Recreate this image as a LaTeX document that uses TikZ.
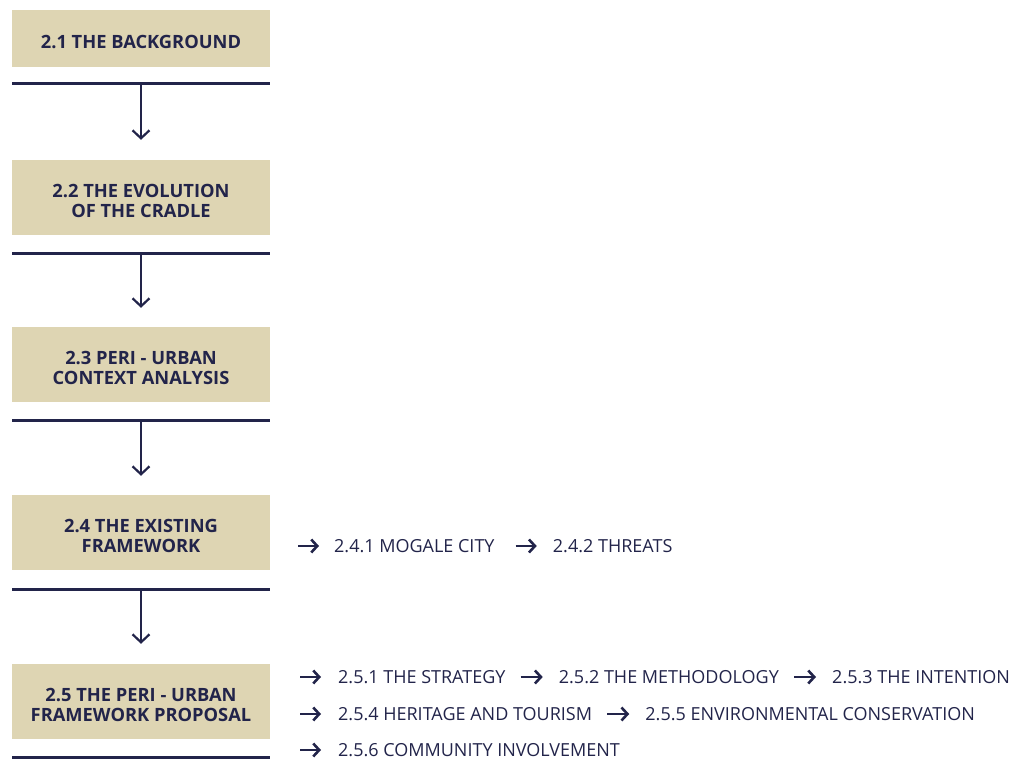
\documentclass[tikz,border=0pt]{standalone}
\usepackage{fontspec}
\setmainfont{Open Sans}
\usetikzlibrary{positioning,arrows.meta,calc}

\definecolor{navy}{HTML}{22244A}
\definecolor{sand}{HTML}{DED5B3}
\newcommand{\stagestrut}{\rule{0pt}{19.5pt}}

\tikzset{
  stage/.style={fill=sand, text=navy, font=\bfseries\fontsize{18.3}{20}\selectfont,
    align=center, minimum width=258pt, minimum height=75pt, inner sep=0pt},
  sub/.style={text=navy, font=\fontsize{18}{20}\selectfont, inner sep=0pt, anchor=west},
  rule/.style={navy, line width=3pt},
  flow/.style={navy, line width=2pt, -{Straight Barb[length=8pt,width=17pt,line width=2.2pt]}},
  subarrow/.style={navy, line width=2.6pt, -{Straight Barb[length=6pt,width=13pt,line width=2.6pt]}}
}

\begin{document}
\begin{tikzpicture}[x=1pt,y=-1pt]
\useasboundingbox (0,0) rectangle (1013,759);
% stages
\node[stage, minimum height=57pt] (b1) at (141,38.5) {\stagestrut 2.1 THE BACKGROUND};
\node[stage] (b2) at (141,197.5) {\stagestrut 2.2 THE EVOLUTION\\OF THE CRADLE};
\node[stage] (b3) at (141,364.5) {\stagestrut 2.3 PERI - URBAN\\CONTEXT ANALYSIS};
\node[stage] (b4) at (141,532.5) {\stagestrut 2.4 THE EXISTING\\FRAMEWORK};
\node[stage] (b5) at (141,701.5) {\stagestrut 2.5 THE PERI - URBAN\\FRAMEWORK PROPOSAL};
% rules under the stages
\draw[rule] (12,84) coordinate (r1w) -- (270,84) coordinate (r1e);
\draw[rule] (12,254) coordinate (r2w) -- (270,254) coordinate (r2e);
\draw[rule] (12,421) coordinate (r3w) -- (270,421) coordinate (r3e);
\draw[rule] (12,589) coordinate (r4w) -- (270,589) coordinate (r4e);
\draw[rule] (12,757) coordinate (r5w) -- (270,757) coordinate (r5e);
\draw[flow, shorten >=20pt] ($(r1w)!0.5!(r1e)$) -- (b2.north);
\draw[flow, shorten >=19pt] ($(r2w)!0.5!(r2e)$) -- (b3.north);
\draw[flow, shorten >=19pt] ($(r3w)!0.5!(r3e)$) -- (b4.north);
\draw[flow, shorten >=20pt] ($(r4w)!0.5!(r4e)$) -- (b5.north);
% 2.4 sub items
\coordinate (a4) at (298,546);
\node[sub] (s41) at (334,546) {2.4.1 MOGALE CITY};
\node[sub, right=58pt of s41] (s42) {2.4.2 THREATS};
\draw[subarrow, shorten >=15pt] (a4) -- (s41.west);
\draw[subarrow, shorten <=21pt, shorten >=16pt] (s41.east) -- (s42.west);
% 2.5 sub items
\coordinate (a51) at (300,677);
\coordinate (a54) at (300,714);
\coordinate (a56) at (300,750);
\node[sub] (s51) at (338,677) {2.5.1 THE STRATEGY};
\node[sub, right=53pt of s51] (s52) {2.5.2 THE METHODOLOGY};
\node[sub, right=53pt of s52] (s53) {2.5.3 THE INTENTION};
\node[sub] (s54) at (338,714) {2.5.4 HERITAGE AND TOURISM};
\node[sub, right=53pt of s54] (s55) {2.5.5 ENVIRONMENTAL CONSERVATION};
\node[sub] (s56) at (338,750) {2.5.6 COMMUNITY INVOLVEMENT};
\draw[subarrow, shorten >=17pt] (a51) -- (s51.west);
\draw[subarrow, shorten >=17pt] (a54) -- (s54.west);
\draw[subarrow, shorten >=17pt] (a56) -- (s56.west);
\draw[subarrow, shorten <=15pt, shorten >=16pt] (s51.east) -- (s52.west);
\draw[subarrow, shorten <=15pt, shorten >=16pt] (s52.east) -- (s53.west);
\draw[subarrow, shorten <=15pt, shorten >=16pt] (s54.east) -- (s55.west);
\end{tikzpicture}
\end{document}
